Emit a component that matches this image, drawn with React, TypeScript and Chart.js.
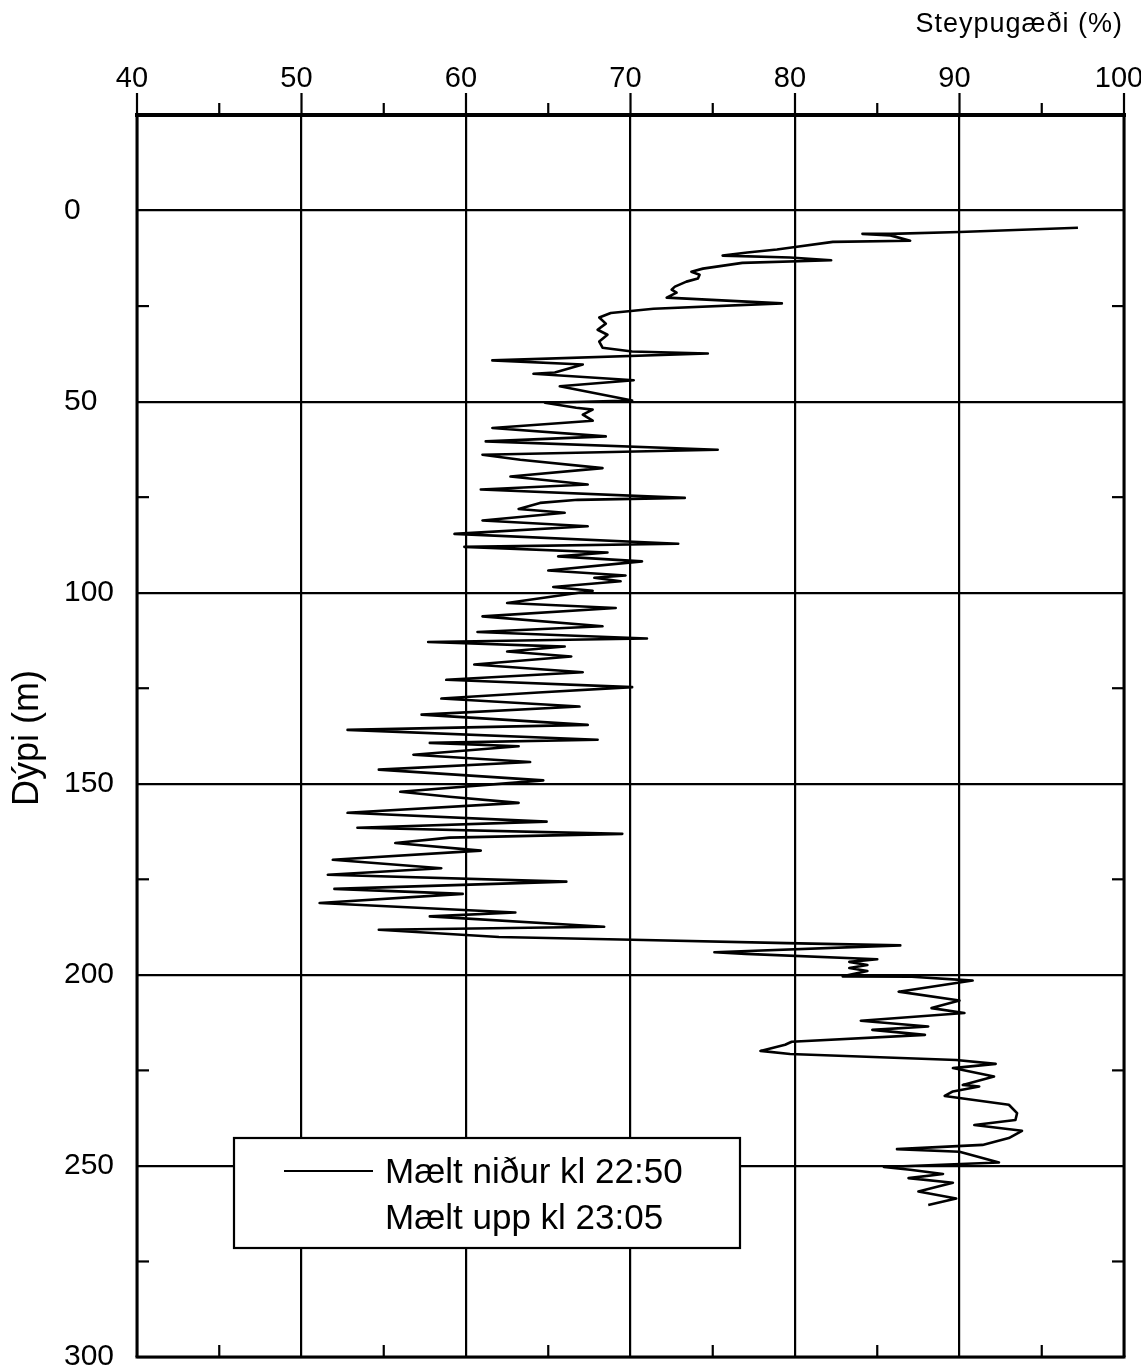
import React, { useEffect, useRef } from 'react';
import { Chart, registerables } from 'chart.js';

Chart.register(...registerables);

// Depth (m) of each reading, measured going down
const depthDown: number[] = [
  4.5, 5.6, 6.1, 6.1, 6.5, 7.9, 8.2, 9.6, 10.2, 11.0,
  11.8, 12.3, 13.0, 13.7, 15.2, 16.0, 16.8, 17.8, 18.6, 19.9,
  20.7, 21.5, 22.8, 24.3, 25.7, 26.8, 28.0, 29.6, 31.2, 32.5,
  34.3, 35.9, 36.9, 37.4, 39.2, 40.3, 42.4, 42.7, 44.4, 46.0,
  49.7, 50.3, 51.6, 52.1, 53.4, 55.0, 56.9, 59.1, 60.4, 62.6,
  63.9, 65.2, 67.4, 69.6, 71.7, 73.0, 75.2, 75.7, 76.5, 78.1,
  79.1, 81.1, 82.6, 84.6, 87.2, 88.0, 89.5, 90.5, 91.8, 94.2,
  95.5, 96.1, 97.0, 98.5, 99.5, 102.7, 104.0, 106.2, 108.8, 110.3,
  112.0, 112.9, 114.1, 115.4, 116.7, 118.8, 120.8, 122.8, 124.7, 126.1,
  127.7, 129.8, 131.9, 134.6, 135.9, 138.5, 139.3, 140.2, 142.4, 144.3,
  146.3, 149.1, 152.1, 153.4, 155.0, 157.6, 159.9, 161.5, 163.1, 164.1,
  165.5, 167.5, 169.9, 172.1, 173.8, 175.6, 177.5, 178.8, 181.2, 183.7,
  184.7, 187.4, 188.2, 190.1, 190.8, 191.7, 192.3, 194.1, 194.5, 195.9,
  196.6, 197.4, 198.2, 199.0, 200.4, 200.5, 201.5, 204.4, 206.7, 208.7,
  210.0, 212.0, 213.5, 214.4, 215.7, 217.5, 218.3, 219.9, 220.7, 222.3,
  223.3, 224.4, 226.6, 228.8, 229.2, 230.5, 231.7, 234.0, 236.2, 238.0,
  239.3, 240.8, 242.7, 244.5, 245.6, 246.3, 249.1, 250.3, 251.0, 252.1,
  253.2, 254.4, 256.7, 258.5, 260.2,
];

// Steypugæði (%) at each depth, measured going down
const qualityDown: number[] = [
  97.2, 90.0, 85.8, 84.1, 85.8, 87.0, 82.3, 79.9, 78.9, 77.1,
  75.6, 79.7, 82.2, 76.8, 74.4, 73.7, 74.2, 74.1, 73.4, 72.7,
  72.5, 72.8, 72.2, 79.2, 71.4, 68.8, 68.1, 68.5, 68.0, 68.6,
  68.1, 68.3, 70.1, 74.7, 61.6, 67.1, 65.4, 64.1, 70.2, 65.7,
  70.1, 64.8, 66.7, 67.7, 67.1, 67.7, 61.6, 68.5, 61.2, 75.3,
  61.0, 63.3, 68.3, 62.7, 67.4, 60.9, 73.3, 66.8, 64.5, 63.2,
  66.0, 61.0, 67.4, 59.3, 72.9, 59.9, 68.6, 65.6, 70.7, 65.0,
  69.7, 67.8, 69.4, 65.3, 67.7, 62.5, 69.1, 61.0, 68.3, 60.7,
  71.0, 57.7, 66.0, 62.5, 66.4, 60.5, 67.1, 58.8, 70.1, 64.4,
  58.5, 66.9, 57.3, 67.4, 52.8, 68.0, 57.8, 63.2, 56.8, 63.9,
  54.7, 64.7, 56.0, 59.0, 63.2, 52.8, 64.9, 53.4, 69.5, 59.0,
  55.7, 60.9, 51.9, 58.5, 51.6, 66.1, 52.0, 59.8, 51.1, 63.0,
  57.8, 68.4, 54.7, 62.0, 70.1, 79.5, 86.4, 75.1, 77.0, 85.0,
  83.3, 84.4, 83.3, 84.4, 82.9, 87.1, 90.8, 86.3, 90.0, 88.3,
  90.3, 84.0, 88.1, 84.7, 87.9, 79.8, 79.4, 77.9, 79.7, 89.8,
  92.2, 89.6, 92.1, 90.2, 91.2, 89.6, 89.1, 93.0, 93.5, 93.4,
  90.9, 93.8, 93.0, 91.4, 86.2, 90.0, 92.4, 85.4, 87.0, 89.0,
  86.9, 89.6, 87.5, 89.8, 88.1,
];

const qualityTicks: number[] = [40, 50, 60, 70, 80, 90, 100];
const qualityMinorTicks: number[] = [45, 55, 65, 75, 85, 95];
const depthTicks: number[] = [0, 50, 100, 150, 200, 250, 300];
const depthMinorTicks: number[] = [25, 75, 125, 175, 225, 275];
const seriesLabels: string[] = ['Mælt niður kl 22:50', 'Mælt upp kl 23:05'];
const xTitle = 'Steypugæði (%)';
const yTitle = 'Dýpi (m)';

const FONT = "'Liberation Sans', Arial, Helvetica, sans-serif";

const decorPlugin = {
  id: 'decor',
  afterDraw(chart: any) {
    const ctx: any = chart.ctx;
    const { left, right, top, bottom } = chart.chartArea;
    const xs = chart.scales.x;
    const ys = chart.scales.y;
    const seg = (x1: number, y1: number, x2: number, y2: number) => {
      ctx.beginPath();
      ctx.moveTo(x1, y1);
      ctx.lineTo(x2, y2);
      ctx.stroke();
    };
    ctx.save();
    ctx.strokeStyle = '#000';
    ctx.fillStyle = '#000';
    ctx.lineCap = 'butt';

    // tick marks
    ctx.lineWidth = 2.2;
    for (const v of qualityTicks) {
      const px = xs.getPixelForValue(v);
      seg(px, top, px, top - 22);
    }
    for (const v of qualityMinorTicks) {
      const px = xs.getPixelForValue(v);
      seg(px, top, px, top - 12);
      seg(px, bottom, px, bottom - 12);
    }
    for (const v of depthMinorTicks) {
      const py = ys.getPixelForValue(v);
      seg(left, py, left + 12, py);
      seg(right, py, right - 12, py);
    }

    // frame
    ctx.lineWidth = 4;
    seg(left - 2, top, right + 2, top);
    ctx.lineWidth = 3;
    seg(left - 1.5, bottom, right + 1.5, bottom);
    seg(left, top, left, bottom);
    seg(right, top, right, bottom);

    // legend
    const bx = 234, by = 1138, bw = 506, bh = 110;
    ctx.fillStyle = '#fff';
    ctx.fillRect(bx, by, bw, bh);
    ctx.lineWidth = 2.2;
    ctx.strokeRect(bx, by, bw, bh);
    ctx.fillStyle = '#000';
    ctx.lineWidth = 2;
    seg(284, 1171, 373, 1171);
    ctx.font = `35px ${FONT}`;
    ctx.textAlign = 'left';
    ctx.textBaseline = 'alphabetic';
    ctx.fillText(seriesLabels[0], 385, 1183);
    ctx.fillText(seriesLabels[1], 385, 1229);

    // axis titles
    ctx.font = `27px ${FONT}`;
    ctx.textAlign = 'right';
    ctx.letterSpacing = '1px';
    ctx.fillText(xTitle, 1123, 32);
    ctx.letterSpacing = '0px';

    ctx.save();
    ctx.translate(38, 738);
    ctx.rotate(-Math.PI / 2);
    ctx.font = `36px ${FONT}`;
    ctx.textAlign = 'center';
    ctx.fillText(yTitle, 0, 0);
    ctx.restore();

    ctx.restore();
  },
};

export default function App() {
  const canvasRef = useRef<HTMLCanvasElement | null>(null);

  useEffect(() => {
    document.body.style.margin = '0';
    const canvas = canvasRef.current;
    if (!canvas) return;
    const points = depthDown.map((d, i) => ({ x: qualityDown[i], y: d }));
    const chart = new Chart(canvas, {
      type: 'scatter',
      data: {
        datasets: [
          {
            label: seriesLabels[0],
            data: points,
            showLine: true,
            borderColor: '#000',
            backgroundColor: '#000',
            borderWidth: 2.6,
            borderJoinStyle: 'round',
            pointRadius: 0,
            tension: 0,
          },
        ],
      },
      options: {
        animation: false,
        responsive: false,
        devicePixelRatio: 1,
        layout: { padding: { left: 64, right: 17, top: 0, bottom: 14 } },
        plugins: {
          legend: { display: false },
          tooltip: { enabled: false },
          title: { display: false },
        },
        scales: {
          x: {
            type: 'linear',
            position: 'top',
            min: 40,
            max: 100,
            afterBuildTicks: (scale: any) => {
              scale.ticks = qualityTicks.map((v) => ({ value: v }));
            },
            afterFit: (scale: any) => {
              scale.height = 115;
              scale.paddingLeft = 0;
              scale.paddingRight = 0;
            },
            ticks: {
              autoSkip: false,
              maxRotation: 0,
              padding: 19,
              labelOffset: -5,
              color: '#000',
              font: { family: FONT, size: 29 },
              callback: (v: any) => String(v),
            },
            grid: { color: '#000', lineWidth: 2.2, drawTicks: false },
            border: { display: false },
          },
          y: {
            type: 'linear',
            reverse: true,
            min: -25,
            max: 300,
            afterBuildTicks: (scale: any) => {
              scale.ticks = depthTicks.map((v) => ({ value: v }));
            },
            afterFit: (scale: any) => {
              scale.width = 73;
              scale.paddingTop = 0;
              scale.paddingBottom = 0;
            },
            ticks: {
              autoSkip: false,
              padding: 20,
              crossAlign: 'far',
              color: '#000',
              font: { family: FONT, size: 30 },
              callback: (v: any) => String(v),
            },
            grid: { color: '#000', lineWidth: 2.2, drawTicks: false },
            border: { display: false },
          },
        },
      },
      plugins: [decorPlugin],
    });
    return () => chart.destroy();
  }, []);

  return (
    <div style={{ width: 1141, height: 1371, background: '#fff' }}>
      <canvas ref={canvasRef} width={1141} height={1371} style={{ display: 'block' }} />
    </div>
  );
}
